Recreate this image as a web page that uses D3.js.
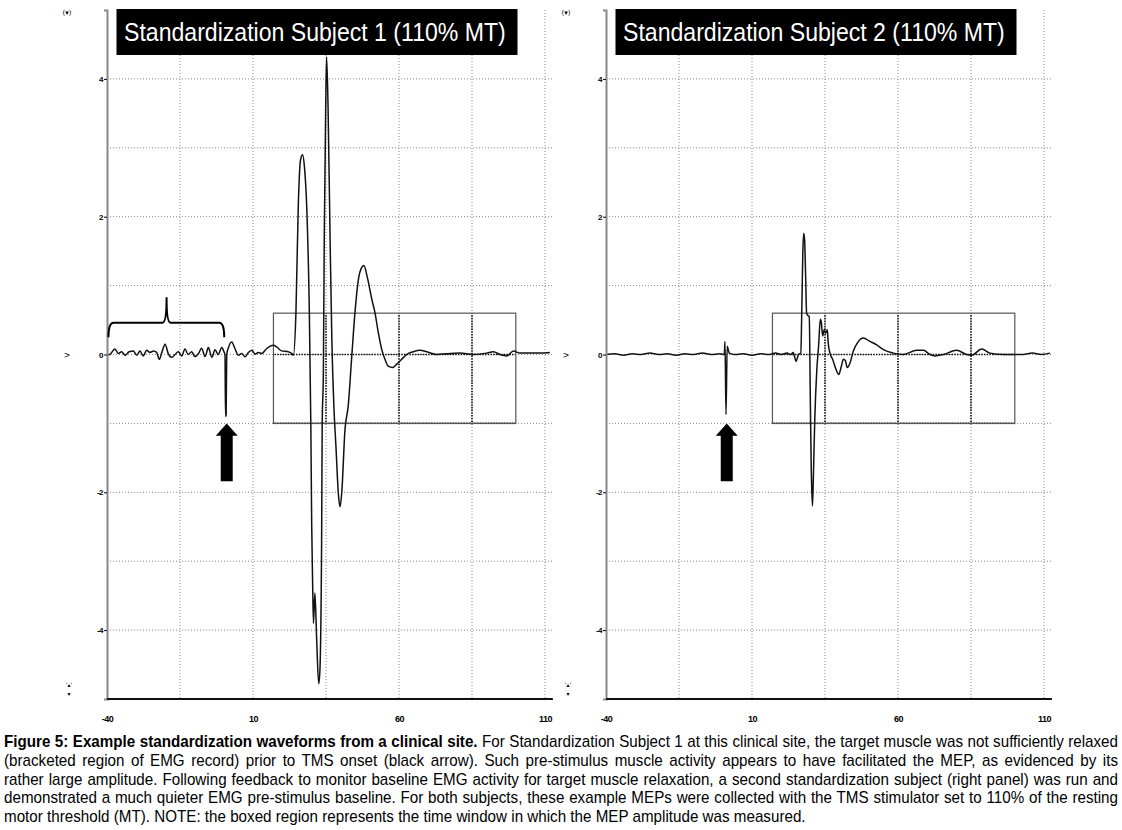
<!DOCTYPE html>
<html>
<head>
<meta charset="utf-8">
<script src="https://cdn.jsdelivr.net/npm/d3@7"></script>
<style>
body { margin: 0; background: #fff; }
svg { display: block; }
</style>
</head>
<body>
<div id="chart"></div>
<script>
// EMG traces: time in ms, amplitude in mV
var s1Time = [-40, -39.0, -38.4, -37.3, -36.1, -35.0, -33.8, -32.4, -31.0, -29.8, -28.7, -27.6, -26.4, -25.3, -24.1, -23.0,
    -22.1, -21.3, -20.1, -19.0, -17.8, -16.7, -15.6, -14.4, -13.3, -12.2, -11.0, -9.9, -8.7, -7.6, -6.4, -5.3, -4.1, -3.0,
    -1.9, -0.7, 0.1, 0.4, 0.6, 0.8, 1.0, 1.6, 2.7, 3.8, 5.0, 6.1, 7.3, 8.4, 9.6, 10.7, 11.8, 13.0, 14.7, 17.0, 18.1, 19.8,
    22.1, 23.3, 23.8, 24.7, 25.5, 26.3, 27.0, 27.6, 28.4, 29.3, 29.8, 30.1, 30.4, 30.7, 31.2, 31.8, 32.5, 32.9, 33.5, 33.7,
    34.1, 34.4, 34.9, 35.2, 35.7, 36.4, 37.0, 37.7, 38.4, 39.3, 39.8, 40.4, 41.5, 42.6, 43.8, 44.9, 46.1, 47.2, 48.0, 49.1,
    50.7, 51.8, 52.9, 54.1, 55.2, 56.3, 57.8, 59.2, 60.9, 62.6, 64.9, 67.2, 69.5, 72.9, 76.3, 80.9, 85.4, 90.0, 92.3, 94.6,
    96.9, 99.2, 101.4, 103.7, 108.3, 111.7];
var s1Amp = [0, 0, 0.03, 0.08, 0.014, 0.04, -0.01, 0.04, 0.05, -0.01, 0.05, -0.02, 0.06, 0.03, 0.05, 0.03,
    -0.07, 0.02, 0.15, 0.01, -0.04, 0, 0.04, -0.02, 0.08, 0.0, 0.04, -0.03, 0.01, 0.09, -0.03, 0.1, -0.04, 0.07,
    0, 0.1, 0.034, 0, -0.9, -0.88, 0, 0.1, 0.18, 0.087, -0.01, 0.014, -0.034, 0.029, 0.063, 0.005, 0.029, 0.014, 0.087, 0.135, 0.11, 0.053,
    0.039, 0.014, -0.01, 0.6, 2.15, 2.83, 2.9, 2.73, 2.14, 0.6, -1.0, -2.46, -3.26, -3.9, -3.46, -4.13, -4.78, -4.6, -2.7, -1.0,
    -0.27, 1.67, 3.6, 4.32, 3.6, 1.67, 0.22, -0.75, -1.33, -2.06, -2.21, -2.0, -1.09, -0.75, -0.04, 0.6, 1.09, 1.26, 1.29, 1.13,
    0.8, 0.6, 0.32, 0.07, -0.07, -0.17, -0.19, -0.14, -0.07, 0, 0.04, 0.06, 0.04, 0, 0.01, 0.02, 0, 0.02, 0.04, 0,
    -0.02, 0.05, 0.02, 0.02, 0.02, 0.03];

var s2Time = [-40, -37, -34, -31, -28, -25, -22, -19, -16, -13, -10, -7, -4, -1, 0.5, 0.75, 1.1, 1.5, 2.2, 4, 7, 10, 13, 16,
    18, 20, 22, 23.3, 24.1, 25.1, 25.9, 26.7, 27.1, 27.4, 27.7, 28.0, 28.4, 28.7, 29.3, 29.6, 30.0, 30.3, 30.7, 31.0, 31.5,
    32.2, 32.8, 33.4, 33.7, 34.2, 34.7, 35.2, 35.8, 36.1, 36.7, 37.6, 38.8, 39.7, 40.6, 41.3, 42.0, 42.6, 43.6, 44.7, 46.1,
    48.1, 50.4, 52.7, 55.0, 58.4, 61.8, 66.4, 68.7, 71.0, 72.7, 75.5, 80.1, 83.5, 85.2, 88.7, 91.5, 96.1, 102.8, 106, 109, 112.1];
var s2Amp = [0, 0.01, -0.01, 0.01, 0, 0.02, 0, 0.01, -0.01, 0.01, 0, 0.02, 0, 0.01, 0, 0.19, -0.87, 0.12, 0.02, 0, 0.01, -0.01, 0.01, 0,
    0.02, 0, 0.02, 0, 0.03, -0.1, 0, 0.02, 0.75, 1.47, 1.76, 1.67, 1.09, 0.6, 0.56, 0.55, -0.75, -1.67, -2.2, -1.81, -0.94,
    -0.22, 0.12, 0.51, 0.48, 0.27, 0.36, 0.31, 0.36, 0.17, 0.02, -0.07, -0.22, -0.29, -0.17, -0.07, -0.09, -0.19, -0.12, 0.05, 0.17,
    0.24, 0.19, 0.14, 0.07, 0.02, 0, 0.06, 0.06, 0, -0.02, 0, 0.06, 0, -0.01, 0.08, 0.02, 0, 0, 0.02, 0, 0.02];

var panelTitles = ["Standardization Subject 1 (110% MT)", "Standardization Subject 2 (110% MT)"];
var xTicks = [-40, 10, 60, 110];
var yTicks = [-4, -2, 0, 2, 4];
var xGrid = [-15, 10, 35, 60, 85, 110];
var yGrid = [-4, -3, -2, -1, 0, 1, 2, 3, 4];
var mepWindow = [17, 100];     // ms, boxed region
var mepRange = [-1, 0.6];      // mV, boxed region
var tmsOnset = [1.0, 1.35];    // arrow position per panel, ms

var captionBold = "Figure 5: Example standardization waveforms from a clinical site.";
var captionLines = [
    " For Standardization Subject 1 at this clinical site, the target muscle was not sufficiently relaxed",
    "(bracketed region of EMG record) prior to TMS onset (black arrow). Such pre-stimulus muscle activity appears to have facilitated the MEP, as evidenced by its",
    "rather large amplitude. Following feedback to monitor baseline EMG activity for target muscle relaxation, a second standardization subject (right panel) was run and",
    "demonstrated a much quieter EMG pre-stimulus baseline. For both subjects, these example MEPs were collected with the TMS stimulator set to 110% of the resting",
    "motor threshold (MT). NOTE: the boxed region represents the time window in which the MEP amplitude was measured."
];

var svgWidth = 1122;
var svgHeight = 830;
var sans = "'Liberation Sans', Arial, sans-serif";

var svg = d3.select("#chart")
    .append("svg")
    .attr("width", svgWidth)
    .attr("height", svgHeight);

var panels = [
    { x0: 107, time: s1Time, amp: s1Amp, title: panelTitles[0], onset: tmsOnset[0], bracket: true },
    { x0: 606, time: s2Time, amp: s2Amp, title: panelTitles[1], onset: tmsOnset[1], bracket: false }
];

panels.forEach(function(p, i) {
    var x = d3.scaleLinear().domain([-40, 110]).range([p.x0, p.x0 + 438]);
    var y = d3.scaleLinear().domain([-5, 5]).range([699, 10]);
    var g = svg.append("g");

    // dotted grid
    g.selectAll(".vgrid").data(xGrid).enter().append("line")
        .attr("x1", d => x(d)).attr("x2", d => x(d))
        .attr("y1", y(5)).attr("y2", y(-5))
        .attr("stroke", "#888").attr("stroke-width", 1).attr("stroke-dasharray", "1,2");
    g.selectAll(".hgrid").data(yGrid).enter().append("line")
        .attr("x1", x(-40)).attr("x2", x(112.7))
        .attr("y1", d => y(d)).attr("y2", d => y(d))
        .attr("stroke", "#888").attr("stroke-width", 1).attr("stroke-dasharray", "1,2");

    // grid looks heavier inside the measurement window
    var clipId = "box" + i;
    svg.append("clipPath").attr("id", clipId).append("rect")
        .attr("x", x(mepWindow[0])).attr("y", y(mepRange[1]))
        .attr("width", x(mepWindow[1]) - x(mepWindow[0]))
        .attr("height", y(mepRange[0]) - y(mepRange[1]) + 1);
    var dark = g.append("g").attr("clip-path", "url(#" + clipId + ")");
    dark.selectAll("line.v").data(xGrid).enter().append("line")
        .attr("x1", d => x(d)).attr("x2", d => x(d))
        .attr("y1", y(5)).attr("y2", y(-5))
        .attr("stroke", "#111").attr("stroke-width", 1.6).attr("stroke-dasharray", "1.5,1.2");
    dark.selectAll("line.h").data(yGrid).enter().append("line")
        .attr("x1", x(-40)).attr("x2", x(112.7))
        .attr("y1", d => y(d)).attr("y2", d => y(d))
        .attr("stroke", "#111").attr("stroke-width", 1.6).attr("stroke-dasharray", "1.5,1.2");

    // measurement window box
    g.append("rect")
        .attr("x", x(mepWindow[0])).attr("y", y(mepRange[1]))
        .attr("width", x(mepWindow[1]) - x(mepWindow[0]))
        .attr("height", y(mepRange[0]) - y(mepRange[1]))
        .attr("fill", "none").attr("stroke", "#555").attr("stroke-width", 1.2);

    // trace
    var line = d3.line()
        .x(d => x(d[0]))
        .y(d => y(d[1]))
        .curve(d3.curveMonotoneX);
    g.append("path")
        .datum(d3.zip(p.time, p.amp))
        .attr("d", line)
        .attr("fill", "none")
        .attr("stroke", "#111")
        .attr("stroke-width", 1.5)
        .attr("stroke-linejoin", "round");

    // axes
    var leftAxis = d3.axisLeft(y).tickValues(yTicks).tickSize(3).tickFormat(d => String(d));
    var yAxis = g.append("g").attr("transform", `translate(${p.x0},0)`).call(leftAxis);
    yAxis.select(".domain").attr("stroke", "#888").attr("stroke-width", 2);
    yAxis.selectAll("text").attr("font-family", sans).attr("font-size", 8).attr("font-weight", "bold")
        .attr("x", -4).attr("letter-spacing", -0.5);

    var bottomAxis = d3.axisBottom(x).tickValues(xTicks).tickSize(0).tickPadding(17).tickFormat(d => String(d));
    var xAxis = g.append("g").attr("transform", `translate(0,${y(-5)})`).call(bottomAxis);
    xAxis.select(".domain").remove();
    xAxis.selectAll("text").attr("font-family", sans).attr("font-size", 9).attr("font-weight", "bold")
        .attr("letter-spacing", -0.5);
    g.append("line")
        .attr("x1", x(-40)).attr("x2", x(112.7))
        .attr("y1", y(-5)).attr("y2", y(-5))
        .attr("stroke", "#111").attr("stroke-width", 2);

    // little scope widget glyphs on the left edge
    var gx = p.x0 - 40;
    g.append("text").attr("x", gx).attr("y", 15).attr("text-anchor", "middle").attr("fill", "#000")
        .attr("font-size", 7).attr("font-family", "DejaVu Sans").text("(\u25BE)");
    g.append("text").attr("x", gx).attr("y", y(0) + 3).attr("text-anchor", "middle").attr("fill", "#000")
        .attr("font-size", 8).attr("font-family", "DejaVu Sans").text(">");
    g.append("text").attr("x", gx + 2).attr("y", 687).attr("text-anchor", "middle").attr("fill", "#000")
        .attr("font-size", 6).attr("font-family", "DejaVu Sans").text("'\u25B4'");
    g.append("text").attr("x", gx + 2).attr("y", 696).attr("text-anchor", "middle").attr("fill", "#000")
        .attr("font-size", 6).attr("font-family", "DejaVu Sans").text("\u25BE");

    // TMS onset arrow
    var ax = x(p.onset);
    var arrow = [
        [ax, y(-1.0)], [ax + 11, y(-1.18)], [ax + 6, y(-1.18)], [ax + 6, y(-1.84)],
        [ax - 6, y(-1.84)], [ax - 6, y(-1.18)], [ax - 11, y(-1.18)]
    ];
    g.append("polygon")
        .attr("points", arrow.map(d => d.join(",")).join(" "))
        .attr("fill", "#000");

    // bracket over the noisy pre-stimulus baseline
    if (p.bracket) {
        var bx0 = x(-39.5), bx1 = x(0.15), bm = x(-19.6);
        var yb = y(0.25), yh = y(0.46), yt = y(0.83);
        var bpath = `M${bx0},${yb} Q${bx0},${yh} ${bx0 + 5},${yh} L${bm - 4},${yh} Q${bm},${yh} ${bm},${yt} ` +
            `Q${bm},${yh} ${bm + 4},${yh} L${bx1 - 5},${yh} Q${bx1},${yh} ${bx1},${yb}`;
        g.append("path").attr("d", bpath).attr("fill", "none").attr("stroke", "#000").attr("stroke-width", 2);
    }

    // panel title, condensed like the scope software font
    g.append("rect").attr("x", p.x0 + 9.5).attr("y", 9).attr("width", 401).attr("height", 46).attr("fill", "#000");
    var t = g.append("text")
        .attr("fill", "#fff").attr("font-family", sans).attr("font-size", 25)
        .text(p.title);
    var w = t.node().getComputedTextLength();
    t.attr("transform", `translate(${p.x0 + 17},41) scale(${382 / w},1)`);
});

// caption, condensed and justified line by line
var cap = svg.append("g").attr("font-family", sans).attr("fill", "#000");
var capSize = 16;
var probe = cap.append("text").attr("font-size", capSize).text(captionLines[4]);
var sx = 802 / probe.node().getComputedTextLength();
probe.remove();

var lineY = [747, 765.8, 784.6, 803.4, 822.2];
captionLines.forEach(function(s, i) {
    var t = cap.append("text")
        .attr("transform", `translate(4,${lineY[i]}) scale(${sx},1)`)
        .attr("font-size", capSize);
    if (i === 0) {
        t.append("tspan").attr("font-weight", "bold").text(captionBold);
        t.append("tspan").text(s);
    } else {
        t.text(s);
    }
    if (i < captionLines.length - 1) {
        var full = (i === 0 ? captionBold : "") + s;
        var gaps = full.split(" ").length - 1;
        var extra = (1114 / sx - t.node().getComputedTextLength()) / gaps;
        t.attr("word-spacing", extra);
    }
});
</script>
</body>
</html>
